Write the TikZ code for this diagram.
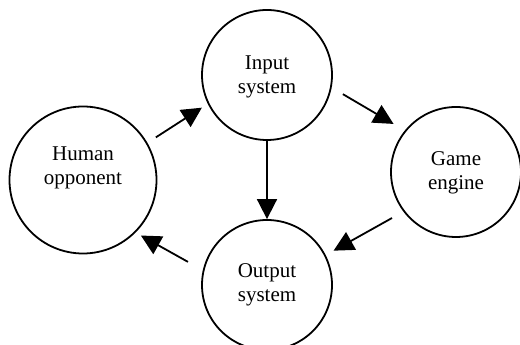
\documentclass[tikz,border=0pt]{standalone}
\usepackage{fontspec}
\setmainfont{Liberation Serif}
\usetikzlibrary{arrows.meta}
\begin{document}
\begin{tikzpicture}[x=1pt,y=1pt,
  stage/.style={circle,draw,line width=1.8pt,inner sep=0pt,minimum size=130pt},
  bigstage/.style={stage,minimum size=147pt},
  caption/.style={align=center,font=\fontsize{21}{24}\selectfont,inner sep=0pt},
  flow/.style={line width=1.8pt,-{Triangle[length=20pt,width=20pt]}}]
\useasboundingbox (0,0) rectangle (520,345);
% the four stages of the loop
\node[stage] (input) at (267,270) {};
\node[stage] (engine) at (456,173) {};
\node[stage] (output) at (267,60) {};
\node[bigstage] (human) at (83,165) {};
% their captions
\node[caption] (inputtxt) at (267,268) {Input\\system};
\node[caption] (enginetxt) at (456,172) {Game\\engine};
\node[caption] (outputtxt) at (267,60) {Output\\system};
\node[caption] (humantxt) at (83,177) {Human\\opponent};
% connectors
\draw[flow,shorten <=10pt,shorten >=7pt] (human.30) -- (input.206);
\draw[flow,shorten <=13pt,shorten >=13pt] (input.-11) -- (engine.141);
\draw[flow] (input.south) -- (output.north);
\draw[flow,shorten <=13pt,shorten >=9pt] (engine.217) -- (output.27);
\draw[flow,shorten <=17pt,shorten >=6pt] (output.167) -- (human.-45);
\end{tikzpicture}
\end{document}
